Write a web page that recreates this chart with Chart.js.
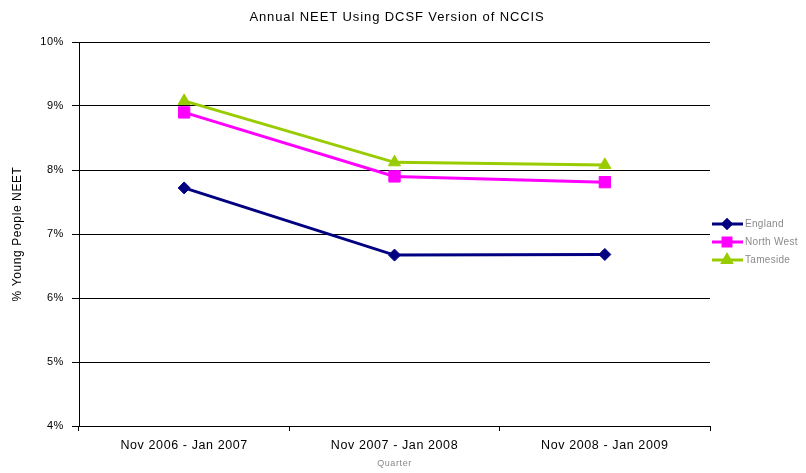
<!DOCTYPE html>
<html>
<head>
<meta charset="utf-8">
<script src="https://cdn.jsdelivr.net/npm/chart.js@4.4.0/dist/chart.umd.min.js"></script>
<style>
  html, body { margin: 0; padding: 0; background: #fff; }
  #wrap { width: 806px; height: 473px; }
</style>
</head>
<body>
<div id="wrap"><canvas id="neetChart" width="806" height="473"></canvas></div>
<script>
const quarters = ['Nov 2006 - Jan 2007', 'Nov 2007 - Jan 2008', 'Nov 2008 - Jan 2009'];
const england = [7.72, 6.67, 6.68];
const northWest = [8.9, 7.9, 7.81];
const tameside = [9.08, 8.12, 8.08];

const FONT = '"Liberation Sans", Arial, sans-serif';

// the original's text is set a little wide
const wideText = {
  id: 'wideText',
  beforeDraw(chart) { chart.ctx.letterSpacing = '0.6px'; }
};

// legend drawn as line + marker, like the spreadsheet original
const sideLegend = {
  id: 'sideLegend',
  afterDraw(chart) {
    const ctx = chart.ctx;
    ctx.save();
    chart.data.datasets.forEach((ds, i) => {
      const y = 224 + i * 18;
      ctx.strokeStyle = ds.borderColor;
      ctx.lineWidth = 3;
      ctx.beginPath();
      ctx.moveTo(712, y);
      ctx.lineTo(743, y);
      ctx.stroke();
      ctx.fillStyle = ds.borderColor;
      Chart.helpers.drawPoint(ctx, {
        pointStyle: ds.pointStyle, radius: ds.pointRadius * 0.7,
        borderWidth: 1
      }, 727, y);
      ctx.fillStyle = '#8a8a8a';
      ctx.letterSpacing = '0.3px';
      ctx.font = '10px ' + FONT;
      ctx.textBaseline = 'middle';
      ctx.fillText(ds.label, 745, y);
    });
    ctx.restore();
  }
};

const topTitle = {
  id: 'topTitle',
  afterDraw(chart) {
    const ctx = chart.ctx;
    ctx.save();
    ctx.fillStyle = '#000';
    ctx.letterSpacing = '0.9px';
    ctx.font = '13px ' + FONT;
    ctx.textAlign = 'center';
    ctx.textBaseline = 'middle';
    ctx.fillText('Annual NEET Using DCSF Version of NCCIS', 397, 17);
    ctx.restore();
  }
};

new Chart(document.getElementById('neetChart'), {
  type: 'line',
  data: {
    labels: quarters,
    datasets: [
      { label: 'England', data: england, borderColor: '#000080', backgroundColor: '#000080',
        pointStyle: 'rectRot', pointRadius: 6 },
      { label: 'North West', data: northWest, borderColor: '#ff00ff', backgroundColor: '#ff00ff',
        pointStyle: 'rect', pointRadius: 8 },
      { label: 'Tameside', data: tameside, borderColor: '#99cc00', backgroundColor: '#99cc00',
        pointStyle: 'triangle', pointRadius: 7 }
    ].map(d => Object.assign(d, { borderWidth: 3, tension: 0, pointBorderWidth: 1, pointHoverRadius: d.pointRadius }))
  },
  options: {
    responsive: false,
    animation: false,
    layout: { padding: { top: 42, right: 96, left: 0, bottom: 0 } },
    plugins: {
      legend: { display: false },
      tooltip: { enabled: false },
      title: { display: false }
    },
    scales: {
      x: {
        offset: true,
        grid: { offset: true, drawOnChartArea: false, color: '#000', tickLength: 5, tickWidth: 1 },
        border: { color: '#000', width: 1 },
        ticks: { color: '#000', font: { family: FONT, size: 12.5 }, padding: 7, maxRotation: 0 },
        title: { display: true, text: 'Quarter', color: '#888', font: { family: FONT, size: 9 }, padding: { top: 1 } },
        afterFit(s) { s.height = 47; }
      },
      y: {
        min: 4, max: 10,
        ticks: { stepSize: 1, color: '#000', font: { family: FONT, size: 11 }, padding: 8,
          callback: v => v + '%' },
        grid: { color: '#000', lineWidth: 1, tickLength: 7 },
        border: { color: '#000', width: 1 },
        title: { display: true, text: '% Young People NEET', color: '#000',
          font: { family: FONT, size: 12 }, padding: { top: 10 } },
        afterFit(s) { s.width = 79; }
      }
    }
  },
  plugins: [wideText, sideLegend, topTitle]
});
</script>
</body>
</html>
